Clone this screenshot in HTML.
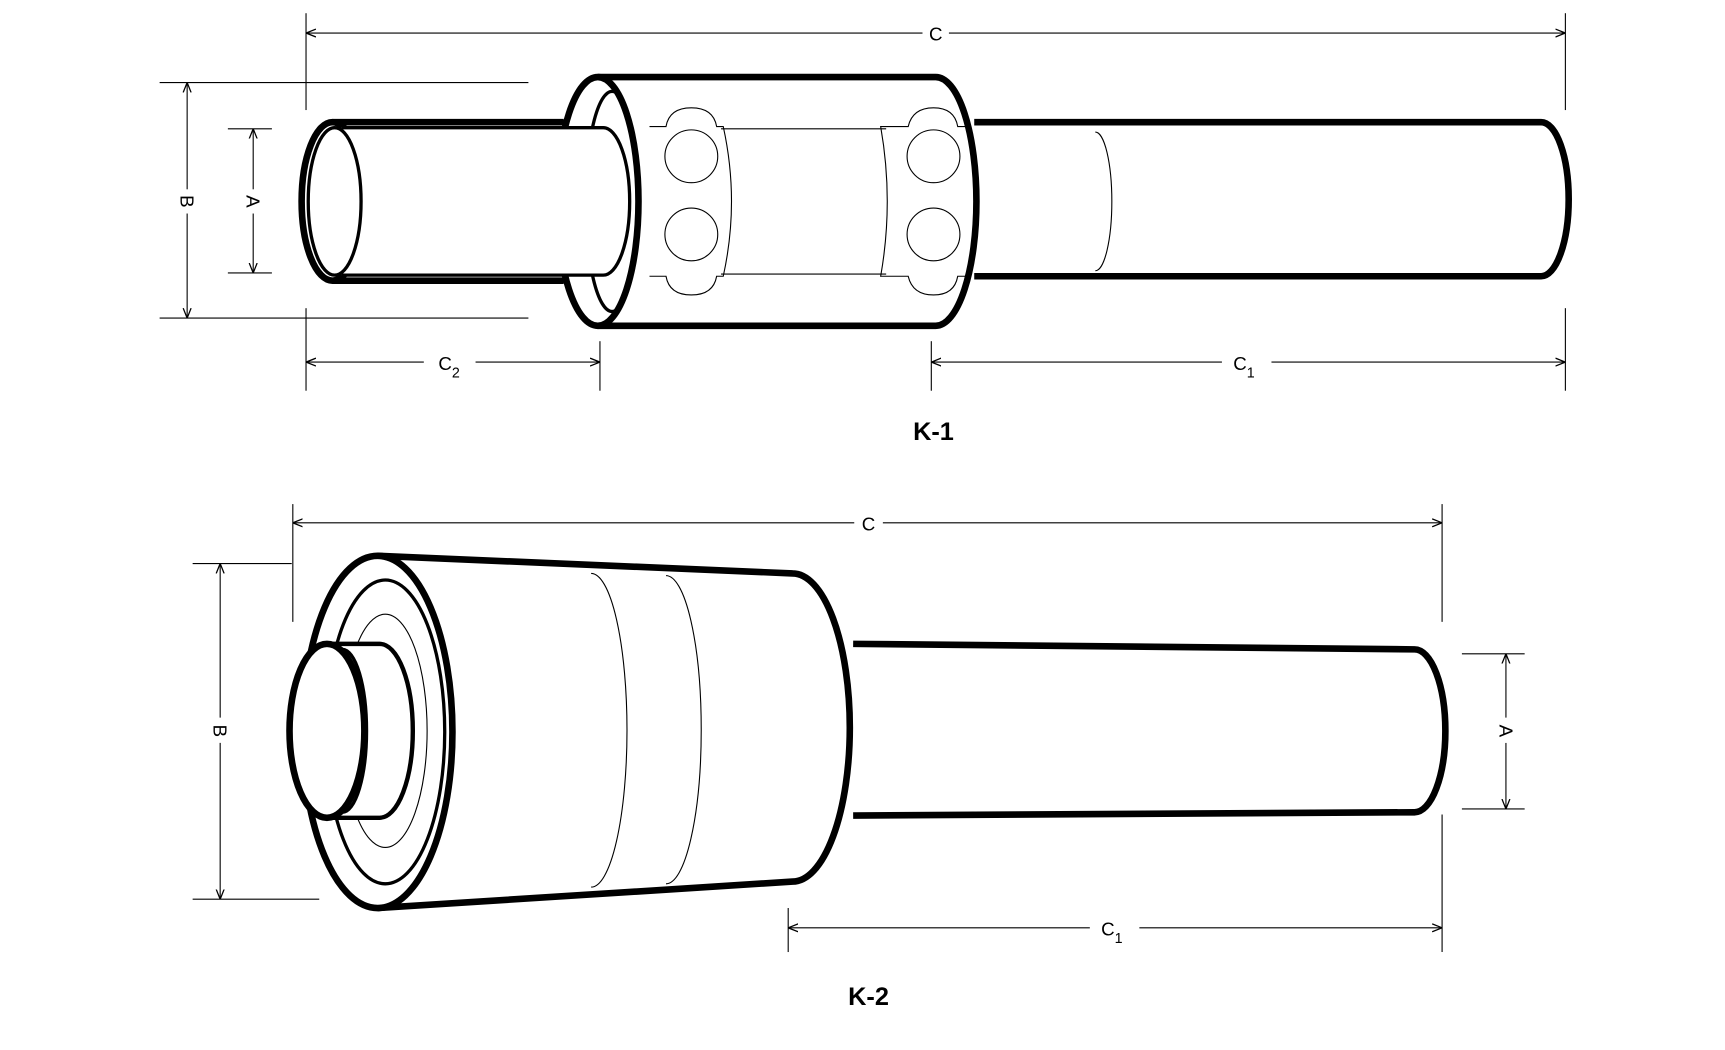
<!DOCTYPE html>
<html><head><meta charset="utf-8"><style>
html,body{margin:0;padding:0;background:#fff;}
svg{display:block}
text{font-family:"Liberation Sans",sans-serif;fill:#000}
</style></head><body>
<svg width="1725" height="1050" viewBox="0 0 1567 954" preserveAspectRatio="none" xmlns="http://www.w3.org/2000/svg">
<defs>
<marker id="a" viewBox="0 0 10 10" refX="10" refY="5" markerWidth="9" markerHeight="9" orient="auto-start-reverse" markerUnits="userSpaceOnUse"><path d="M0,1 L10,5 L0,9" fill="none" stroke="#000" stroke-width="1.3"/></marker>
</defs>
<g fill="none" stroke="#000">
<!-- K-1 dimensions -->
<g stroke-width="1">
<line x1="278" y1="12" x2="278" y2="100"/><line x1="1422" y1="12" x2="1422" y2="100"/>
<line x1="278" y1="30" x2="838" y2="30" marker-start="url(#a)"/><line x1="862" y1="30" x2="1422" y2="30" marker-end="url(#a)"/>
<line x1="145" y1="75" x2="480" y2="75"/><line x1="145" y1="289" x2="480" y2="289"/>
<line x1="170" y1="75" x2="170" y2="172" marker-start="url(#a)"/><line x1="170" y1="194" x2="170" y2="289" marker-end="url(#a)"/>
<line x1="207" y1="117" x2="247" y2="117"/><line x1="207" y1="248" x2="247" y2="248"/>
<line x1="230" y1="117" x2="230" y2="172" marker-start="url(#a)"/><line x1="230" y1="194" x2="230" y2="248" marker-end="url(#a)"/>
<line x1="278" y1="280" x2="278" y2="355"/><line x1="545" y1="310" x2="545" y2="355"/>
<line x1="278" y1="329" x2="385" y2="329" marker-start="url(#a)"/><line x1="432" y1="329" x2="545" y2="329" marker-end="url(#a)"/>
<line x1="846" y1="310" x2="846" y2="355"/><line x1="1422" y1="280" x2="1422" y2="355"/>
<line x1="846" y1="329" x2="1110" y2="329" marker-start="url(#a)"/><line x1="1155" y1="329" x2="1422" y2="329" marker-end="url(#a)"/>
</g>
<!-- K-1 right shaft -->
<path d="M885,111 L1400,111 A25,70 0 0 1 1400,251 L885,251" stroke-width="6"/>
<path d="M995,120 A15,63 0 0 1 995,246" stroke-width="1"/>
<!-- collar -->
<path d="M543,70 L850,70 A37,113 0 0 1 850,296 L543,296" stroke-width="6" fill="#fff"/>
<ellipse cx="543" cy="183" rx="37" ry="113" stroke-width="6" fill="#fff"/>
<ellipse cx="556" cy="183" rx="24" ry="100" stroke-width="3"/>
<g stroke-width="1">
<line x1="655" y1="117" x2="805" y2="117"/><line x1="655" y1="249" x2="805" y2="249"/>
<path d="M590,115 L605,115 Q608,98 628,98 Q648,98 651,115 L657,115 Q672,183 657,251 L651,251 Q648,268 628,268 Q608,268 605,251 L590,251"/>
<path d="M880,115 L870,115 Q867,98 848,98 Q829,98 825,115 L800,115 Q812,183 800,251 L825,251 Q829,268 848,268 Q867,268 870,251 L880,251"/>
<circle cx="628" cy="142" r="24"/><circle cx="628" cy="213" r="24"/>
<circle cx="848" cy="142" r="24"/><circle cx="848" cy="213" r="24"/>
</g>
<!-- left tube -->
<path d="M302,111 L512,111 M302,255 L512,255" stroke-width="6"/>
<ellipse cx="302" cy="183" rx="28" ry="72" stroke-width="6" fill="#fff"/>
<path d="M310,116 L548,116 A24,67 0 0 1 548,250 L310,250" stroke-width="3" fill="#fff"/>
<ellipse cx="304" cy="183" rx="24" ry="67" stroke-width="3" fill="#fff"/>

<!-- K-2 dimensions -->
<g stroke-width="1">
<line x1="266" y1="458" x2="266" y2="565"/><line x1="1310" y1="458" x2="1310" y2="565"/>
<line x1="266" y1="475" x2="776" y2="475" marker-start="url(#a)"/><line x1="802" y1="475" x2="1310" y2="475" marker-end="url(#a)"/>
<line x1="175" y1="512" x2="265" y2="512"/><line x1="175" y1="817" x2="290" y2="817"/>
<line x1="200" y1="512" x2="200" y2="652" marker-start="url(#a)"/><line x1="200" y1="675" x2="200" y2="817" marker-end="url(#a)"/>
<line x1="1328" y1="594" x2="1385" y2="594"/><line x1="1328" y1="735" x2="1385" y2="735"/>
<line x1="1368" y1="594" x2="1368" y2="652" marker-start="url(#a)"/><line x1="1368" y1="675" x2="1368" y2="735" marker-end="url(#a)"/>
<line x1="716" y1="825" x2="716" y2="865"/><line x1="1310" y1="740" x2="1310" y2="865"/>
<line x1="716" y1="843" x2="990" y2="843" marker-start="url(#a)"/><line x1="1035" y1="843" x2="1310" y2="843" marker-end="url(#a)"/>
</g>
<!-- shaft -->
<path d="M775,585 L1285,590 A28,74 0 0 1 1285,738 L775,741" stroke-width="6"/>
<!-- cone -->
<path d="M343,505 L720,521 A52,140 0 0 1 720,801 L343,825" stroke-width="6" fill="#fff"/>
<path d="M537,521 A32,140 0 0 1 537,806 M605,523 A32,140 0 0 1 605,803" stroke-width="1"/>
<ellipse cx="343" cy="665" rx="68" ry="160" stroke-width="6" fill="#fff"/>
<ellipse cx="350" cy="665" rx="54" ry="138" stroke-width="3"/>
<ellipse cx="350" cy="664" rx="38" ry="106" stroke-width="1"/>
<path d="M297,585 L345,585 A30,79 0 0 1 345,743 L297,743" stroke-width="4" fill="#fff"/>
<ellipse cx="297" cy="664" rx="34" ry="79" stroke-width="6" fill="#fff"/>
<path d="M311,590 A22,74 0 0 1 311,738" stroke-width="3"/>
</g>
<g font-size="17" text-anchor="middle">
<text x="850" y="37">C</text>
<text x="408" y="336">C<tspan font-size="13" dy="7">2</tspan></text>
<text x="1130" y="336">C<tspan font-size="13" dy="7">1</tspan></text>
<text x="789" y="482">C</text>
<text x="1010" y="850">C<tspan font-size="13" dy="7">1</tspan></text>
<text transform="translate(164,183) rotate(90)">B</text>
<text transform="translate(224,183) rotate(90)">A</text>
<text transform="translate(194,664) rotate(90)">B</text>
<text transform="translate(1362,664) rotate(90)">A</text>
</g>
<g font-size="23" font-weight="bold" text-anchor="middle">
<text x="848" y="400">K-1</text>
<text x="789" y="913">K-2</text>
</g>
</svg>
</body></html>
